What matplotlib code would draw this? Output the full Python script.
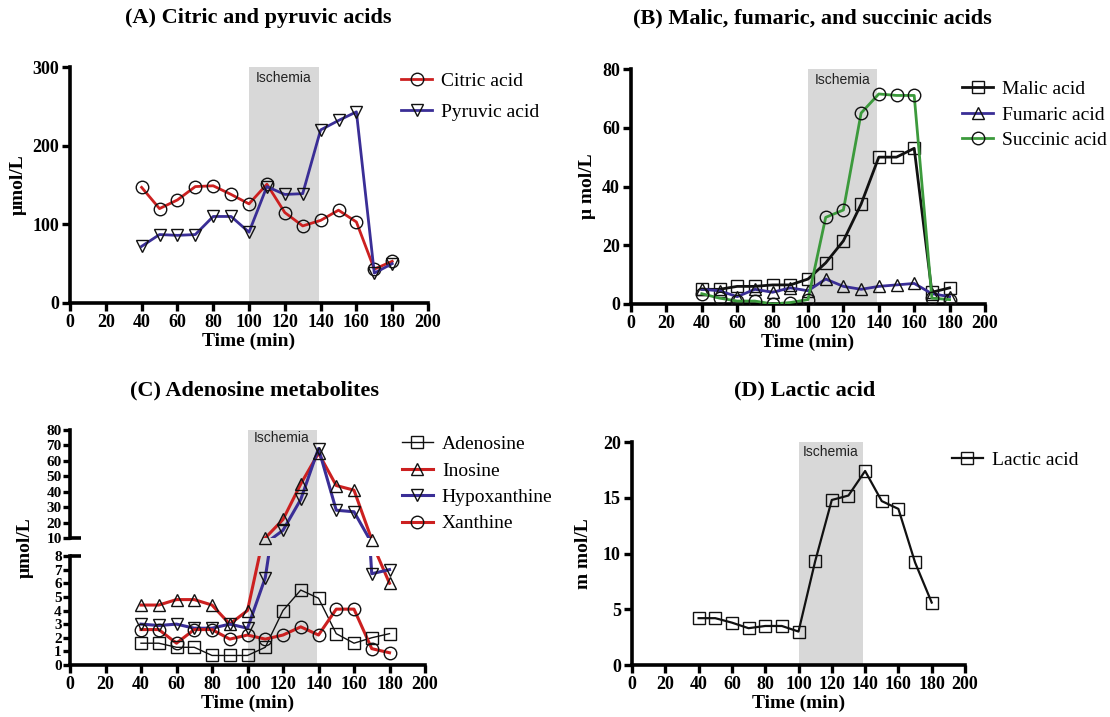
import matplotlib
matplotlib.use("Agg")
import matplotlib.pyplot as plt
import matplotlib.transforms as mtrans
from matplotlib.patches import Rectangle
from matplotlib.lines import Line2D

plt.rcParams['font.family'] = ['Liberation Serif', 'DejaVu Serif']

time = [40, 50, 60, 70, 80, 90, 100, 110, 120, 130, 140, 150, 160, 170, 180]

# Panel A
citric = [147, 120, 131, 148, 149, 138, 126, 151, 115, 98, 105, 118, 103, 43, 53]
pyruvic = [72, 87, 86, 87, 110, 110, 90, 148, 138, 139, 220, 232, 243, 38, 50]

# Panel B
malic = [5, 5, 6, 6, 6.5, 6.5, 8.5, 14, 21.5, 34, 50, 50, 53, 4, 5.5]
fumaric = [5, 4.5, 2.5, 5, 4, 5.5, 4.5, 8.5, 6, 5, 6, 6.5, 7, 3.5, 2.5]
succinic = [3.5, 2, 1, 1, 0, 0.5, 1.5, 29.5, 32, 65, 71.5, 71, 71, 2, 1.5]

# Panel C
adenosine = [1.6, 1.6, 1.3, 1.3, 0.7, 0.7, 0.7, 1.3, 4.0, 5.5, 4.9, 2.3, 1.6, 2.0, 2.3]
inosine = [4.4, 4.4, 4.8, 4.8, 4.4, 3.0, 4.0, 10, 22, 45, 65, 44, 41, 9, 6.0]
hypoxanthine = [3.0, 2.9, 3.0, 2.7, 2.7, 3.0, 2.7, 6.4, 15, 35, 68, 28, 27, 6.7, 7.0]
xanthine = [2.6, 2.6, 1.6, 2.6, 2.6, 1.9, 2.2, 1.9, 2.2, 2.8, 2.2, 4.1, 4.1, 1.2, 0.9]

# Panel D
lactic = [4.2, 4.2, 3.8, 3.3, 3.5, 3.5, 3.0, 9.3, 14.8, 15.2, 17.4, 14.7, 14.0, 9.2, 5.6]

ischemia = (100, 139)

RED = '#cc2020'
BLUE = '#3a2e96'
GREEN = '#3c9a3c'
BLACK = '#111111'
SHADE = '#d8d8d8'

W, H = 1110, 717
fig = plt.figure(figsize=(W / 100, H / 100), dpi=100)


def fx(px):
    return px / W


def fy(py):
    return 1 - py / H


def make_ax(l, r, t, b):
    return fig.add_axes([fx(l), fy(b), fx(r) - fx(l), fy(t) - fy(b)])


def style(ax, bottom=True, ylsize=13):
    for s in ['top', 'right']:
        ax.spines[s].set_visible(False)
    for s in ['left', 'bottom']:
        ax.spines[s].set_linewidth(2.6)
        ax.spines[s].set_color('black')
    ax.tick_params(axis='both', direction='out', width=2.4, length=6,
                   labelsize=13, pad=2)
    ax.tick_params(axis='y', labelsize=ylsize)
    for lab in ax.get_xticklabels() + ax.get_yticklabels():
        lab.set_fontweight('bold')
    if not bottom:
        ax.spines['bottom'].set_visible(False)
        ax.tick_params(axis='x', bottom=False, labelbottom=False)
    ax.patch.set_alpha(0)


def xaxis(ax):
    ax.set_xlim(0, 200)
    ax.set_xticks(range(0, 201, 20))
    ax.set_xlabel('Time (min)', fontsize=14, fontweight='bold', labelpad=1)


def shade(ax, label=True):
    ax.axvspan(ischemia[0], ischemia[1], color=SHADE, zorder=0, lw=0)
    if label:
        ax.text(sum(ischemia) / 2, 0.985, 'Ischemia',
                transform=mtrans.blended_transform_factory(ax.transData, ax.transAxes),
                ha='center', va='top', fontsize=10, family='Liberation Sans', color='#222222')


def series(ax, y, color, marker, lw=2.0, ms=9, label=None, clip=True):
    ax.plot(time, y, color=color, lw=lw, marker=marker, ms=ms, mfc='none',
            mec=BLACK, mew=1.0, label=label, zorder=3, clip_on=clip)


def legend(ax, x, y, spacing=0.6):
    ax.legend(loc='upper left', bbox_to_anchor=(x, y), frameon=False, fontsize=14,
              handlelength=1.6, handletextpad=0.45, labelspacing=spacing, borderaxespad=0,
              borderpad=0)


# ---------------- Panel A ----------------
axA = make_ax(70, 428, 67, 303)
shade(axA)
series(axA, citric, RED, 'o', label='Citric acid')
series(axA, pyruvic, BLUE, 'v', label='Pyruvic acid')
axA.set_ylim(0, 300)
axA.set_yticks([0, 100, 200, 300])
xaxis(axA)
axA.set_ylabel('μmol/L', fontsize=14, fontweight='bold', labelpad=4)
style(axA)
legend(axA, 0.925, 0.979, spacing=0.7)
fig.text(fx(258), fy(18), '(A) Citric and pyruvic acids', ha='center', va='center',
         fontsize=16, fontweight='bold')

# ---------------- Panel B ----------------
axB = make_ax(631, 985, 69, 304)
shade(axB)
series(axB, malic, BLACK, 's', label='Malic acid', lw=2.0)
series(axB, fumaric, BLUE, '^', label='Fumaric acid')
series(axB, succinic, GREEN, 'o', label='Succinic acid')
axB.set_ylim(0, 80)
axB.set_yticks(range(0, 81, 20))
xaxis(axB)
axB.set_ylabel('μ mol/L', fontsize=14, fontweight='bold', labelpad=4)
style(axB)
legend(axB, 0.935, 0.951, spacing=0.4)
fig.text(fx(812), fy(18), '(B) Malic, fumaric, and succinic acids', ha='center', va='center',
         fontsize=16, fontweight='bold')

# ---------------- Panel C (broken axis) ----------------
axCb = make_ax(70, 425, 556, 665)
axCt = make_ax(70, 425, 430, 538)
for ax in (axCb, axCt):
    ax.set_xlim(0, 200)

# continuous shading through the gap
tr = mtrans.blended_transform_factory(axCb.transData, fig.transFigure)
fig.patches.append(Rectangle((ischemia[0], fy(665)), ischemia[1] - ischemia[0], fy(430) - fy(665),
                             transform=tr, color=SHADE, zorder=-1, lw=0))
axCt.text(sum(ischemia) / 2, 0.995, 'Ischemia',
          transform=mtrans.blended_transform_factory(axCt.transData, axCt.transAxes),
          ha='center', va='top', fontsize=10, family='Liberation Sans', color='#222222')

c_series = [
    ('Adenosine', adenosine, BLACK, 's', 1.0),
    ('Inosine', inosine, RED, '^', 2.2),
    ('Hypoxanthine', hypoxanthine, BLUE, 'v', 2.2),
    ('Xanthine', xanthine, RED, 'o', 2.2),
]
for name, y, color, mk, lw in c_series:
    axCb.plot(time, y, color=color, lw=lw, zorder=3)
    axCt.plot(time, y, color=color, lw=lw, zorder=3)
    lo_x = [t for t, v in zip(time, y) if v <= 8]
    lo_y = [v for v in y if v <= 8]
    hi_x = [t for t, v in zip(time, y) if v > 8]
    hi_y = [v for v in y if v > 8]
    if lo_x:
        axCb.plot(lo_x, lo_y, ls='none', marker=mk, ms=9, mfc='none', mec=BLACK, mew=1.0,
                  zorder=4, clip_on=False)
    if hi_x:
        axCt.plot(hi_x, hi_y, ls='none', marker=mk, ms=9, mfc='none', mec=BLACK, mew=1.0,
                  zorder=4, clip_on=False)

axCb.set_ylim(0, 8)
axCb.set_yticks(range(0, 9))
axCt.set_ylim(10, 80)
axCt.set_yticks(range(10, 81, 10))
axCb.set_xticks(range(0, 201, 20))
axCb.set_xlabel('Time (min)', fontsize=14, fontweight='bold', labelpad=1)
style(axCb, ylsize=11)
style(axCt, bottom=False, ylsize=11)
for ax in (axCb, axCt):
    ax.tick_params(axis='y', pad=1, length=5)
# break hooks
for ax, yv in ((axCt, 0.0), (axCb, 1.0)):
    ax.plot([0, 0.03], [yv, yv], transform=ax.transAxes, color='black', lw=2.6, clip_on=False,
            solid_capstyle='butt')
fig.text(fx(25), fy(548), 'μmol/L', rotation=90, ha='center', va='center',
         fontsize=14, fontweight='bold')
handles = [Line2D([], [], color=c, lw=lw, marker=mk, ms=9, mfc='none', mec=BLACK, mew=1.0)
           for _, _, c, mk, lw in c_series]
axCt.legend(handles, [s[0] for s in c_series], loc='upper left', bbox_to_anchor=(0.935, 0.948),
            frameon=False, fontsize=14, handlelength=1.6, handletextpad=0.45, labelspacing=0.45,
            borderaxespad=0, borderpad=0)
fig.text(fx(255), fy(390), '(C) Adenosine metabolites', ha='center', va='center',
         fontsize=16, fontweight='bold')

# ---------------- Panel D ----------------
axD = make_ax(632, 965, 442, 665)
shade(axD)
series(axD, lactic, BLACK, 's', lw=1.6, label='Lactic acid')
axD.set_ylim(0, 20)
axD.set_yticks(range(0, 21, 5))
xaxis(axD)
axD.set_ylabel('m mol/L', fontsize=14, fontweight='bold', labelpad=8)
style(axD)
legend(axD, 0.96, 0.959)
fig.text(fx(805), fy(390), '(D) Lactic acid', ha='center', va='center',
         fontsize=16, fontweight='bold')

fig.savefig('out.png', dpi=100, facecolor='white')
